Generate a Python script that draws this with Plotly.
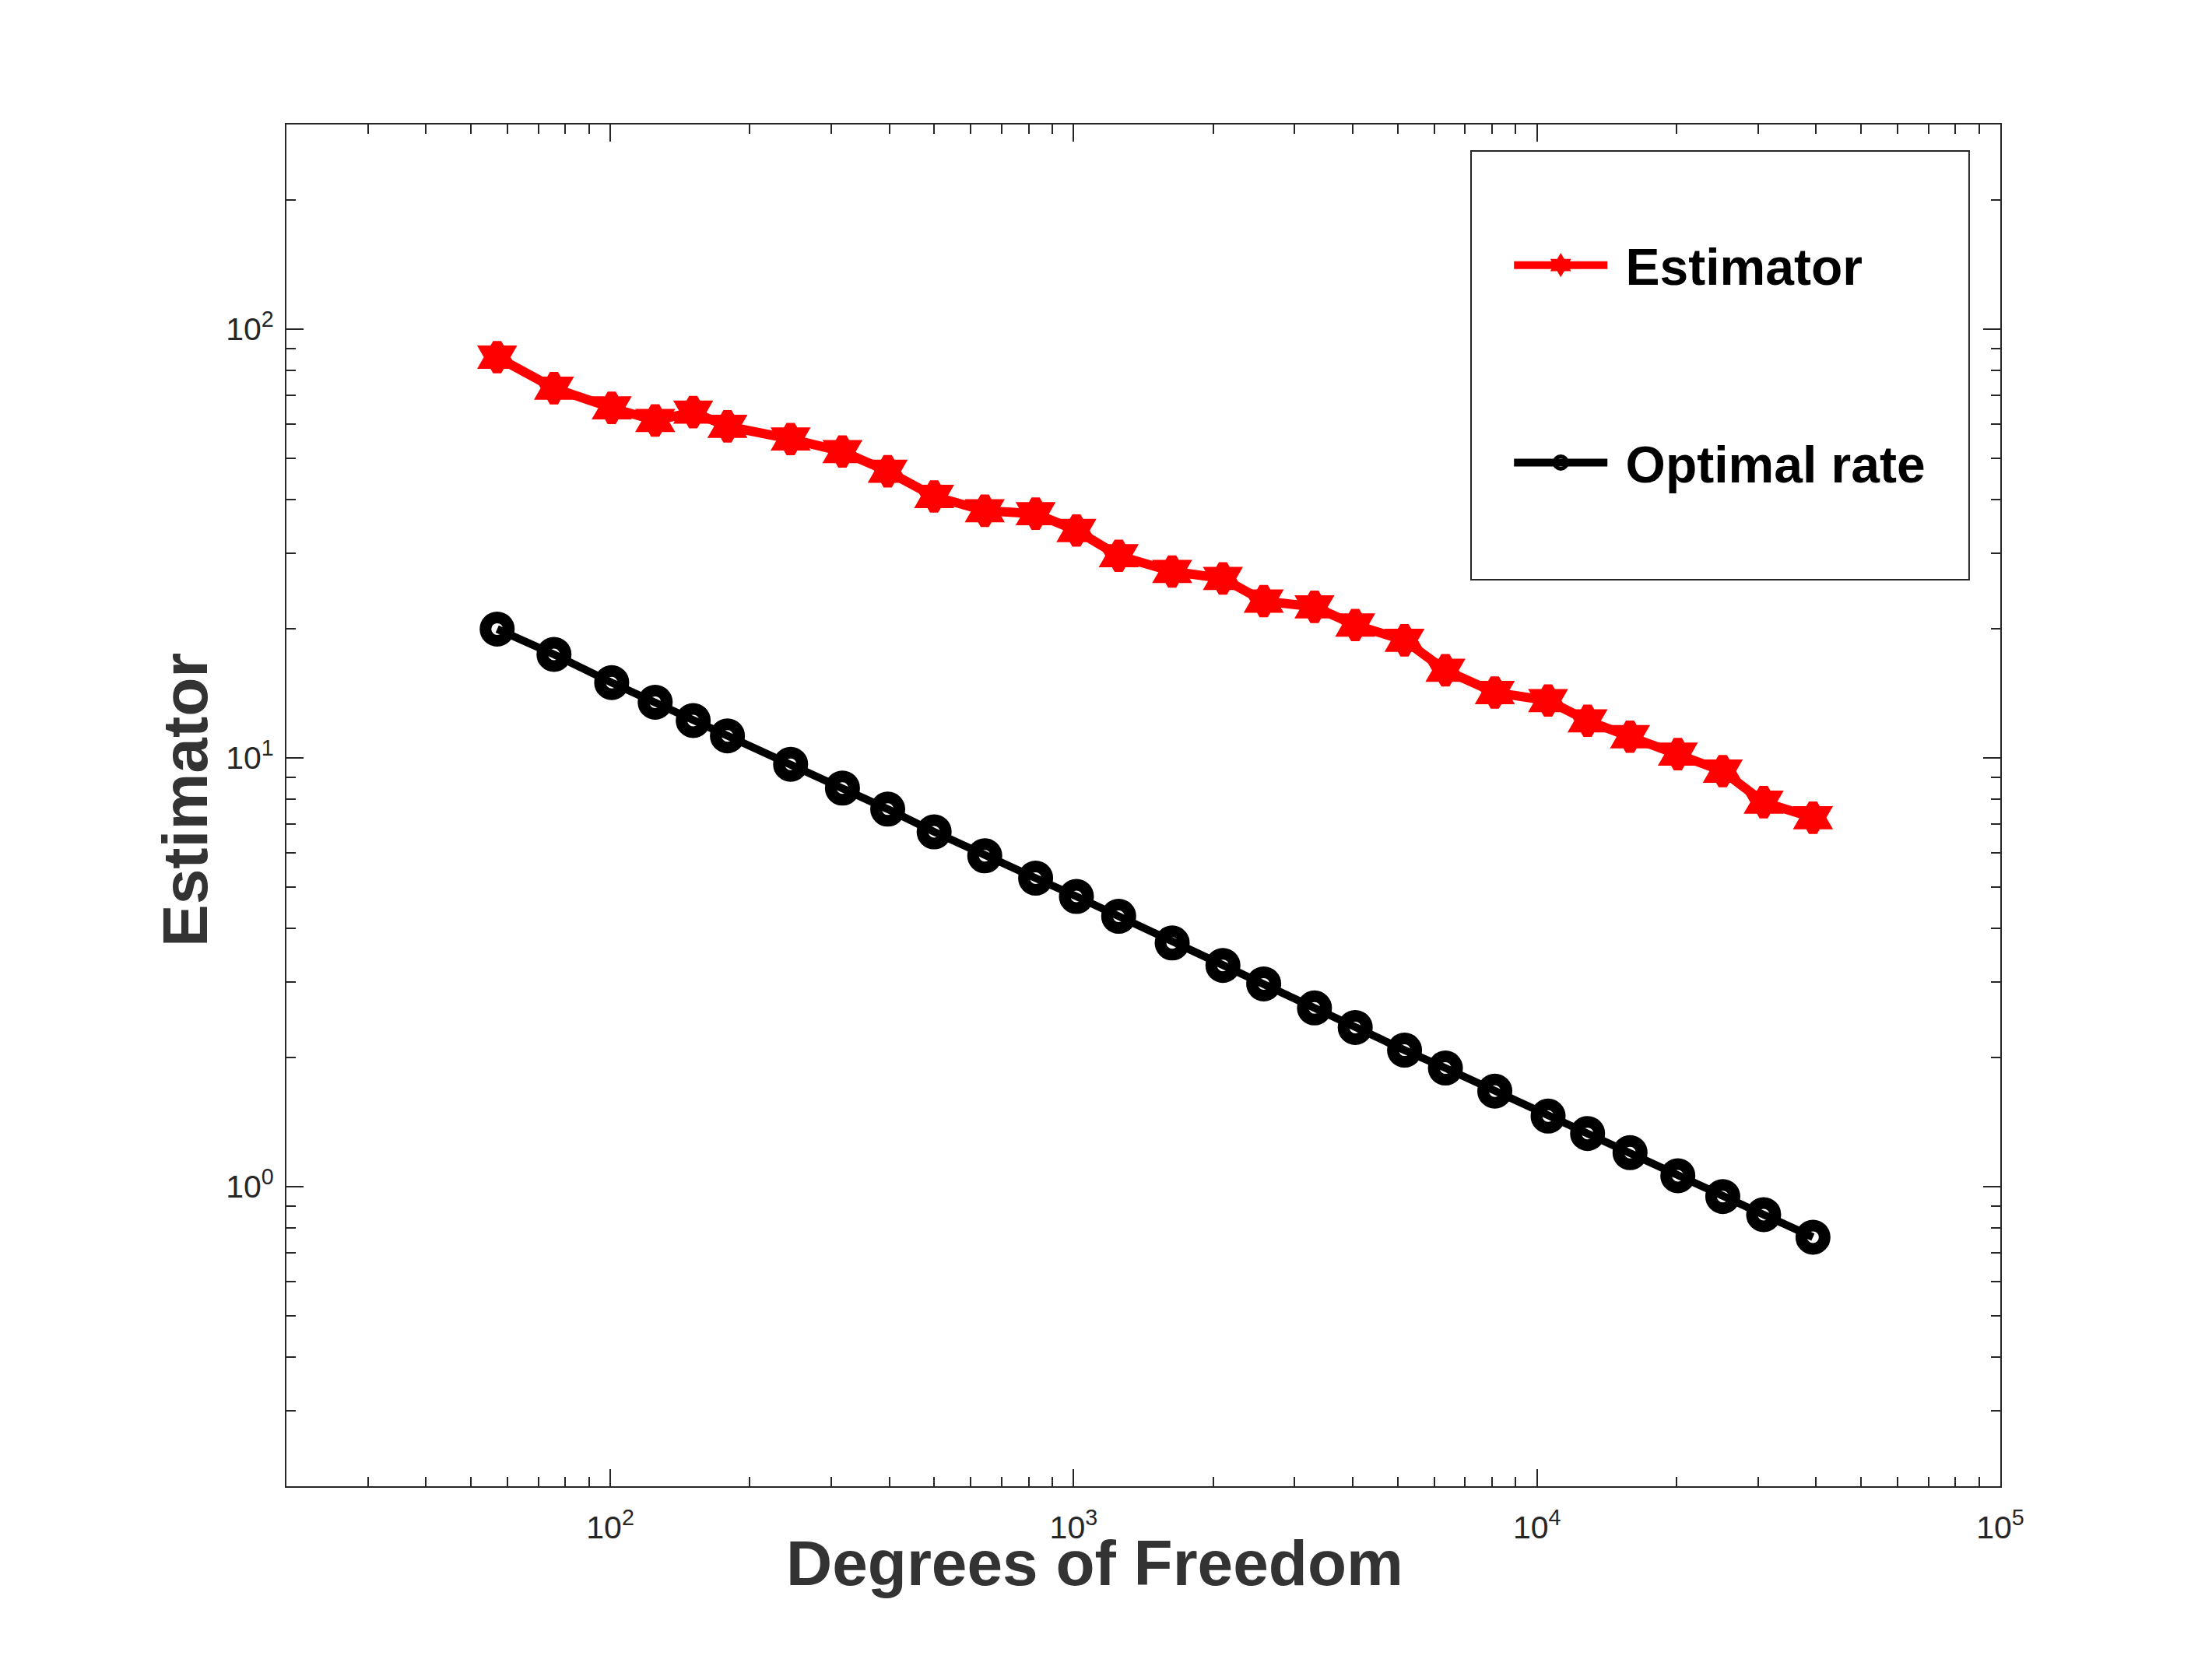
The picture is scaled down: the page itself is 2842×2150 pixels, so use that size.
import plotly.graph_objects as go

# Values
dof = [57, 75.6, 100.7, 125, 151, 179, 245, 317, 397, 500, 643, 828, 1014,
       1251, 1632, 2100, 2572, 3310, 4053, 5179, 6345, 8110, 10570, 12860,
       15880, 20140, 25180, 30850, 39420]
estimator = [86.0, 72.8, 65.5, 61.2, 64.0, 59.3, 55.4, 51.8, 46.6, 40.7, 37.7,
             37.1, 33.9, 29.6, 27.2, 26.2, 23.2, 22.5, 20.4, 18.8, 16.0, 14.2,
             13.6, 12.2, 11.2, 10.2, 9.31, 7.88, 7.25]
optimal_rate = [19.97, 17.43, 14.98, 13.48, 12.22, 11.25, 9.66, 8.50, 7.59,
                6.72, 5.91, 5.24, 4.75, 4.27, 3.70, 3.28, 2.97, 2.61, 2.35, 2.08,
                1.89, 1.67, 1.46, 1.33, 1.20, 1.06, 0.948, 0.860, 0.762]

x_tick_vals = [1e2, 1e3, 1e4, 1e5]
x_tick_text = ["10<sup>2</sup>", "10<sup>3</sup>", "10<sup>4</sup>", "10<sup>5</sup>"]
y_tick_vals = [1e0, 1e1, 1e2]
y_tick_text = ["10<sup>0</sup>", "10<sup>1</sup>", "10<sup>2</sup>"]

AX = "#262626"
FONT = "Liberation Sans"


def minor_ticks(lo_exp, hi_exp):
    return [m * 10 ** e for e in range(lo_exp, hi_exp) for m in range(2, 10)]


fig = go.Figure()

fig.add_trace(go.Scatter(
    x=dof, y=estimator, name="&nbsp;<b>Estimator</b>", mode="lines+markers",
    legendgroup="est",
    line=dict(color="#ff0000", width=12),
    marker=dict(symbol="hexagram", size=27, color="#ff0000",
                line=dict(color="#ff0000", width=12)),
))
fig.add_trace(go.Scatter(
    x=dof, y=optimal_rate, name="&nbsp;<b>Optimal rate</b>", mode="lines+markers",
    legendgroup="opt",
    line=dict(color="#000000", width=10),
    marker=dict(symbol="circle-open", size=30, color="#000000",
                line=dict(color="#000000", width=15)),
))

axis_common = dict(
    type="log", showgrid=False, zeroline=False,
    showline=True, linecolor=AX, linewidth=2, mirror="ticks",
    ticks="inside", ticklen=22, tickwidth=2, tickcolor=AX,
    tickfont=dict(family=FONT, size=41, color=AX),
    tickmode="array",
)

fig.update_xaxes(
    **axis_common,
    range=[1.30103, 5],  # log10(20) .. log10(1e5)
    tickvals=x_tick_vals, ticktext=x_tick_text, ticklabelstandoff=16,
    minor=dict(tickmode="array", tickvals=minor_ticks(1, 5), ticks="inside",
               ticklen=12, tickwidth=2, tickcolor=AX, showgrid=False),
)
fig.update_yaxes(
    **axis_common,
    range=[-0.69897, 2.47712],  # log10(0.2) .. log10(300)
    tickvals=y_tick_vals, ticktext=y_tick_text, ticklabelstandoff=6,
    minor=dict(tickmode="array", tickvals=minor_ticks(-1, 3), ticks="inside",
               ticklen=12, tickwidth=2, tickcolor=AX, showgrid=False),
)

# legend frame
fig.add_shape(type="rect", xref="paper", yref="paper",
              x0=0.6912, x1=0.9818, y0=0.6657, y1=0.9806,
              line=dict(color=AX, width=2), fillcolor="rgba(0,0,0,0)")

# axis titles (placed like MATLAB does)
fig.add_annotation(text="<b>Degrees of Freedom</b>", xref="paper", yref="paper",
                   x=0.4715, y=-0.056, xanchor="center", yanchor="middle",
                   showarrow=False, font=dict(family=FONT, size=82, color="#333333"))
fig.add_annotation(text="<b>Estimator</b>", xref="paper", yref="paper",
                   x=-0.0595, y=0.504, xanchor="center", yanchor="middle",
                   textangle=-90, showarrow=False,
                   font=dict(family=FONT, size=82, color="#333333"))

# page body has an 8px margin, so the figure is shrunk by that much
fig.update_layout(
    width=2834, height=2142,
    margin=dict(l=360, r=272, t=152, b=240),
    paper_bgcolor="white", plot_bgcolor="white",
    showlegend=True,
    legend=dict(
        x=0.714, y=0.925, xanchor="left", yanchor="top",
        bgcolor="rgba(0,0,0,0)", borderwidth=0,
        traceorder="grouped", tracegroupgap=165, itemwidth=120,
        font=dict(family=FONT, size=66, color="#000000"),
    ),
)

fig.write_html("out.html")
